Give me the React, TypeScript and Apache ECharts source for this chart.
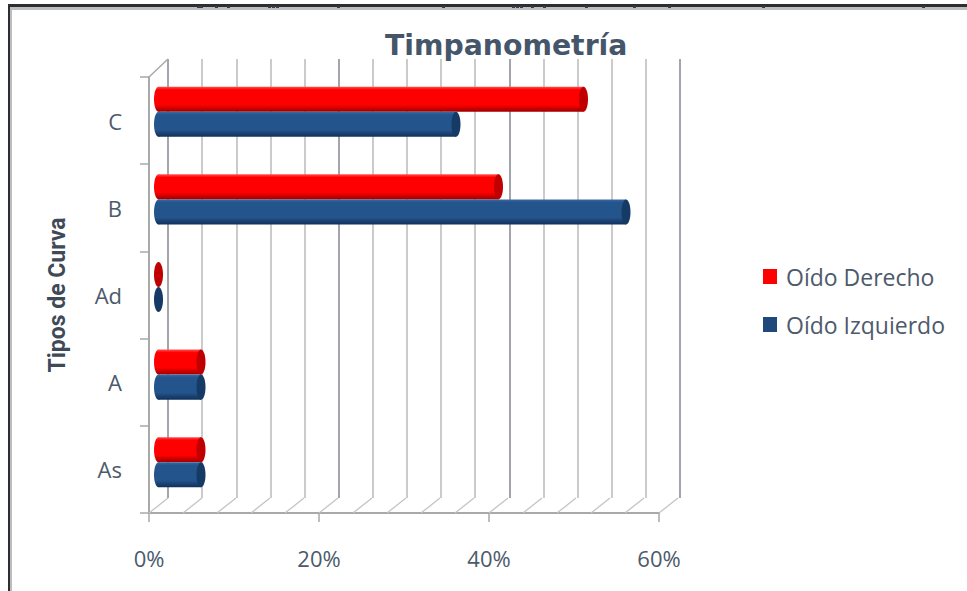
import React, { useEffect, useRef } from "react";
import * as echarts from "echarts";

const categories = ["As", "A", "Ad", "B", "C"];
const seriesNames = ["Oído Derecho", "Oído Izquierdo"];
const derecho = [5, 5, 0, 40, 50];
const izquierdo = [5, 5, 0, 55, 35];
const wallTicks = [0, 4, 8, 12, 16, 20, 24, 28, 32, 36, 40, 44, 48, 52, 56, 60];
const edgeMarks = [197, 200, 215, 227, 268, 272, 276, 337, 442, 512, 516, 520, 531, 543, 585, 633, 668, 762, 922];

const AXIS_GREY = "#a9a9a9";
const TEXT = "#4c5a6b";
const FONT = "Open Sans";

// Draws one horizontal cylinder per category: shaded body plus a darker end cap.
function cylinder(sign: number, top: string, mid: string, low: string, cap: string) {
  return (params: any, api: any) => {
    const value = api.value(0);
    const start = api.coord([0, api.value(1)]);
    const end = api.coord([value, api.value(1)]);
    const band = api.size([0, 1])[1];
    const h = band * 0.286;
    const y = start[1] + (sign < 0 ? -h : 0);
    const rx = 4.5;
    const fill = new echarts.graphic.LinearGradient(0, 0, 0, 1, [
      { offset: 0, color: top },
      { offset: 0.12, color: mid },
      { offset: 0.72, color: mid },
      { offset: 1, color: low },
    ]);
    const children: any[] = [];
    if (value > 0) {
      children.push({
        type: "ellipse",
        shape: { cx: start[0], cy: y + h / 2, rx, ry: h / 2 },
        style: { fill },
      });
      children.push({
        type: "rect",
        shape: { x: start[0], y, width: end[0] - start[0], height: h },
        style: { fill },
      });
    }
    children.push({
      type: "ellipse",
      shape: { cx: end[0], cy: y + h / 2, rx, ry: h / 2 },
      style: { fill: cap },
    });
    return { type: "group", children };
  };
}

// Floor diagonals run from each front tick back to the foot of its wall line.
function floorLine(params: any, api: any) {
  const p = api.coord([api.value(0), 0]);
  const floorY = p[1] + api.size([0, 1])[1] / 2;
  return {
    type: "line",
    shape: { x1: p[0], y1: floorY, x2: p[0] + 19, y2: floorY - 15 },
    style: { stroke: "#c4c4c4", lineWidth: 1.3 },
  };
}

export default function App() {
  const ref = useRef<HTMLDivElement>(null);

  useEffect(() => {
    const chart = echarts.init(ref.current!, undefined, { renderer: "svg" });
    const labelStyle = { color: TEXT, fontFamily: FONT, fontSize: 22 };
    chart.setOption({
      animation: false,
      backgroundColor: "#ffffff",
      title: {
        text: "Timpanometría",
        left: 385,
        top: 31,
        padding: 0,
        textStyle: { color: "#46566a", fontFamily: "DejaVu Sans", fontWeight: "bold", fontSize: 28.3 },
      },
      legend: {
        left: 763,
        top: 265,
        orient: "vertical",
        padding: 0,
        itemWidth: 14,
        itemHeight: 15,
        itemGap: 25,
        icon: "rect",
        data: seriesNames,
        textStyle: { color: TEXT, fontFamily: FONT, fontSize: 23, padding: [0, 0, 0, 4] },
      },
      grid: [
        { left: 149, top: 77, width: 510, height: 436 },
        { left: 168, top: 59, width: 512, height: 439 },
        { left: 158.5, top: 68, width: 510, height: 438 },
      ],
      xAxis: [
        {
          gridIndex: 0,
          type: "value",
          min: 0,
          max: 60,
          interval: 20,
          axisLine: { show: true, onZero: false, lineStyle: { color: AXIS_GREY, width: 2 } },
          axisTick: { show: true, length: 9, lineStyle: { color: AXIS_GREY, width: 1.5 } },
          axisLabel: { ...labelStyle, margin: 34, formatter: "{value}%" },
          splitLine: { show: false },
        },
        {
          gridIndex: 1,
          type: "value",
          min: 0,
          max: 60,
          interval: 20,
          axisLine: { show: false },
          axisTick: { show: false },
          axisLabel: { show: false },
          splitLine: { show: true, lineStyle: { color: "#a2a5a9", width: 2 } },
          minorSplitLine: { show: true, lineStyle: { color: "#cbcbcb", width: 2 } },
          minorTick: { show: false, splitNumber: 5 },
        },
        { gridIndex: 2, type: "value", min: 0, max: 60, show: false },
      ],
      yAxis: [
        {
          gridIndex: 0,
          type: "category",
          data: categories,
          name: "Tipos de Curva",
          nameLocation: "middle",
          nameGap: 80,
          nameRotate: 90,
          nameTextStyle: { color: "#3f4a58", fontFamily: "Roboto", fontWeight: "bold", fontSize: 23 },
          axisLine: { show: true, lineStyle: { color: AXIS_GREY, width: 2 } },
          axisTick: { show: true, length: 9, alignWithLabel: false, lineStyle: { color: AXIS_GREY, width: 1.5 } },
          axisLabel: { ...labelStyle, margin: 27 },
        },
        { gridIndex: 1, type: "value", min: 0, max: 1, show: false },
        { gridIndex: 2, type: "category", data: categories, show: false },
      ],
      series: [
        {
          type: "custom",
          name: seriesNames[0],
          xAxisIndex: 2,
          yAxisIndex: 2,
          itemStyle: { color: "#ff0000" },
          encode: { x: 0, y: 1 },
          data: derecho.map((v, i) => [v, i]),
          renderItem: cylinder(-1, "#ff5050", "#ff0000", "#9c0000", "#c00000"),
          z: 5,
        },
        {
          type: "custom",
          name: seriesNames[1],
          xAxisIndex: 2,
          yAxisIndex: 2,
          itemStyle: { color: "#1f497d" },
          encode: { x: 0, y: 1 },
          data: izquierdo.map((v, i) => [v, i]),
          renderItem: cylinder(1, "#3a6aa0", "#24548c", "#11305a", "#153a66"),
          z: 5,
        },
        {
          type: "custom",
          xAxisIndex: 0,
          yAxisIndex: 0,
          encode: { x: 0 },
          data: wallTicks.map((v) => [v]),
          renderItem: floorLine,
          z: 1,
        },
      ],
      graphic: [
        // Corner that joins the left wall to the back wall at the top.
        { type: "line", shape: { x1: 149, y1: 77, x2: 168, y2: 59 }, style: { stroke: AXIS_GREY, lineWidth: 1.5 } },
        // Window frame round the chart.
        { type: "rect", shape: { x: 8, y: 4, width: 959, height: 3 }, style: { fill: "#2b2e33" } },
        { type: "rect", shape: { x: 10, y: 7, width: 957, height: 3 }, style: { fill: "#bdbdbd" } },
        { type: "rect", shape: { x: 8, y: 4, width: 2, height: 587 }, style: { fill: "#2b2e33" } },
        { type: "rect", shape: { x: 10, y: 7, width: 2, height: 584 }, style: { fill: "#bdbdbd" } },
        ...edgeMarks.map((x) => ({
          type: "rect",
          shape: { x, y: 6, width: 3, height: 2 },
          style: { fill: "#3a3d42" },
        })),
      ],
    });
    return () => chart.dispose();
  }, []);

  return <div ref={ref} style={{ position: "fixed", left: 0, top: 0, width: 967, height: 591 }} />;
}
